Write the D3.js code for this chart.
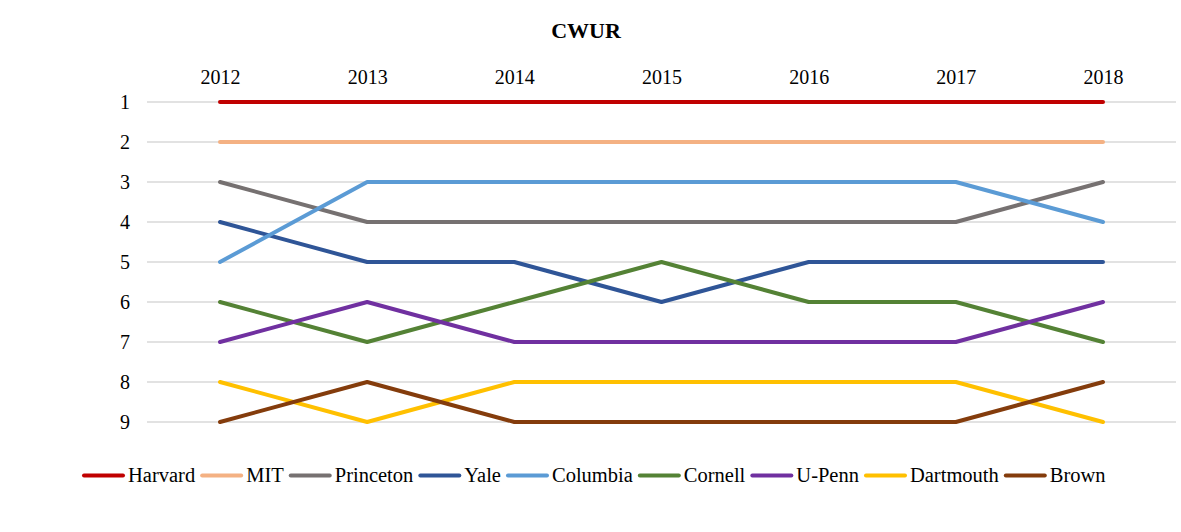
<!DOCTYPE html>
<html><head><meta charset="utf-8">
<script src="https://cdn.jsdelivr.net/npm/d3@7"></script>
<style>body{margin:0;background:#fff}svg{display:block}text{font-family:'Liberation Serif','Times New Roman',serif}</style>
</head><body><svg id="c" width="1181" height="532"></svg>
<script>
const years = ["2012","2013","2014","2015","2016","2017","2018"];
const ranks = [1,2,3,4,5,6,7,8,9];
const schools = ["Harvard","MIT","Princeton","Yale","Columbia","Cornell","U-Penn","Dartmouth","Brown"];
const colors = ["#C00000","#F4B183","#767171","#2F5597","#5B9BD5","#548235","#7030A0","#FFC000","#843C0C"];
const harvard = [1,1,1,1,1,1,1];
const mit = [2,2,2,2,2,2,2];
const princeton = [3,4,4,4,4,4,3];
const yale = [4,5,5,6,5,5,5];
const columbia = [5,3,3,3,3,3,4];
const cornell = [6,7,6,5,6,6,7];
const upenn = [7,6,7,7,7,7,6];
const dartmouth = [8,9,8,8,8,8,9];
const brown = [9,8,9,9,9,9,8];
const seriesValues = [harvard,mit,princeton,yale,columbia,cornell,upenn,dartmouth,brown];

const svg = d3.select("#c");
const font = "'Liberation Serif','Times New Roman',serif";
const x = d3.scalePoint().domain(years).range([220,1103]);
const y = d3.scaleLinear().domain([1,9]).range([102,422]);

svg.append("text").attr("x",586).attr("y",38).attr("text-anchor","middle")
  .style("font-family",font).attr("font-weight","bold").style("font-size","22px").text("CWUR");

// gridlines
svg.append("g").selectAll("line").data(ranks).join("line")
  .attr("x1",147).attr("x2",1176).attr("y1",d=>y(d)).attr("y2",d=>y(d))
  .attr("stroke","#d9d9d9").attr("stroke-width",1.3);

// top axis labels
const xa = svg.append("g").attr("transform","translate(0,78)")
  .call(d3.axisTop(x).tickSize(0).tickPadding(0));
xa.select(".domain").remove();
xa.selectAll("text").style("font-family",font).style("font-size","20px").attr("fill","#000").attr("dy","0.3em");

// left axis labels
const ya = svg.append("g").attr("transform","translate(130,0)")
  .call(d3.axisLeft(y).tickValues(ranks).tickFormat(d3.format("d")).tickSize(0).tickPadding(0));
ya.select(".domain").remove();
ya.selectAll("text").style("font-family",font).style("font-size","20px").attr("fill","#000");

const line = d3.line().x((d,i)=>x(years[i])).y(d=>y(d));
svg.append("g").selectAll("path").data(seriesValues).join("path")
  .attr("d",line).attr("fill","none").attr("stroke",(d,i)=>colors[i])
  .attr("stroke-width",4).attr("stroke-linecap","round").attr("stroke-linejoin","round");

// legend
const lg = svg.append("g");
let lx = 82;
schools.forEach((s,i)=>{
  lg.append("line").attr("x1",lx+2).attr("x2",lx+41).attr("y1",475.5).attr("y2",475.5)
    .attr("stroke",colors[i]).attr("stroke-width",4).attr("stroke-linecap","round");
  const t = lg.append("text").attr("x",lx+46).attr("y",482).style("font-family",font)
    .style("font-size","20.5px").text(s);
  lx += 46 + t.node().getComputedTextLength() + 5;
});
</script></body></html>
